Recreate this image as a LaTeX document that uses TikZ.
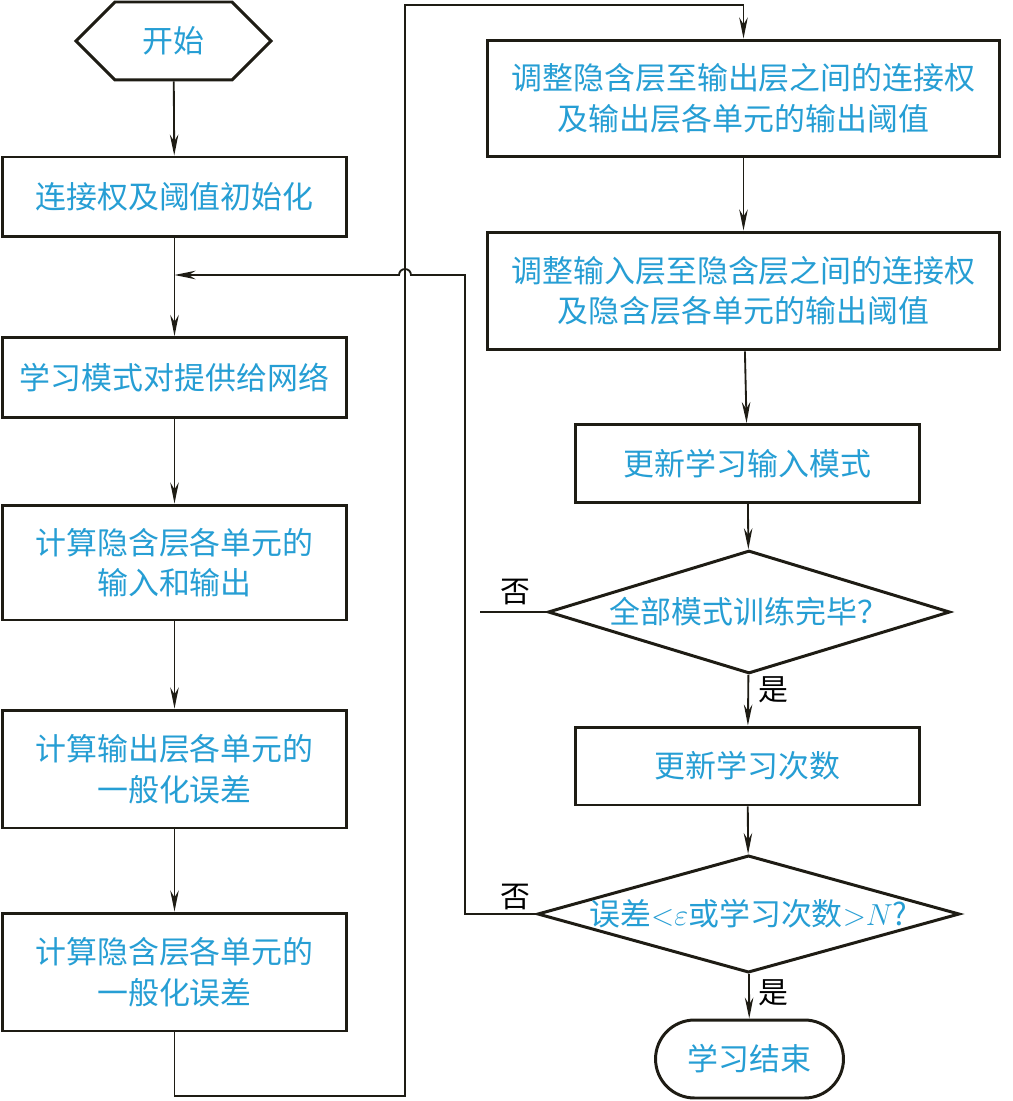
\documentclass[tikz,border=0pt]{standalone}
\usepackage{fontspec}
\newfontfamily\cjk{Noto Sans CJK SC}
\usepackage{xcolor}
\definecolor{txtblue}{RGB}{38,158,212}
\definecolor{inkline}{RGB}{30,28,20}
\usepackage{tikz}
\usetikzlibrary{positioning,arrows.meta,shapes.geometric,shapes.misc,shapes.symbols}
\tikzset{
  proc/.style  ={rectangle, draw=inkline, line width=1.7pt, fill=white, text=txtblue,
                 align=center, inner sep=2pt, minimum width=6.9cm, minimum height=1.6cm,
                 font=\cjk\fontsize{17.6}{23}\selectfont},
  wproc/.style ={proc, minimum width=10.26cm, minimum height=2.34cm},
  sproc/.style ={proc, minimum height=1.56cm},
  term/.style  ={proc, signal, signal to=west and east, signal pointer angle=90,
                 minimum width=3.9cm, minimum height=1.56cm},
  stopbox/.style={proc, rounded rectangle, minimum width=3.9cm, minimum height=1.56cm},
  decide/.style={proc, diamond, aspect=3.3, inner sep=0pt},
  arr/.style   ={-{Stealth[length=4.2mm, width=1.7mm]}, line width=1.05pt, draw=inkline},
  ln/.style    ={line width=1.05pt, draw=inkline},
  yn/.style    ={font=\cjk\fontsize{17}{20}\selectfont, text=black, inner sep=1pt},
}

\begin{document}
\begin{tikzpicture}[x=0.02cm, y=-0.02cm]
  \useasboundingbox[fill=white] (0,0) rectangle (1013,1101);
  % left column
  \node[term]  (start) at (173.5,41)  {开始};
  \node[proc]  (init)  at (174.5,197) {连接权及阈值初始化};
  \node[proc]  (feed)  at (174.5,377.5) {学习模式对提供给网络};
  \node[proc, minimum height=2.3cm] (hid)  at (174.5,562.5) {计算隐含层各单元的\\输入和输出};
  \node[proc, minimum height=2.36cm] (oerr) at (174.5,769) {计算输出层各单元的\\一般化误差};
  \node[proc, minimum height=2.36cm] (herr) at (174.5,972) {计算隐含层各单元的\\一般化误差};
  % right column
  \node[wproc] (wout)  at (743.5,98.5) {调整隐含层至输出层之间的连接权\\及输出层各单元的输出阈值};
  \node[wproc, minimum height=2.36cm] (win) at (743.5,291) {调整输入层至隐含层之间的连接权\\及隐含层各单元的输出阈值};
  \node[sproc] (upd)   at (747.5,463.5) {更新学习输入模式};
  \node[decide, minimum width=8.04cm, minimum height=2.46cm] (allq) at (749,612) {全部模式训练完毕？};
  \node[sproc] (cnt)   at (747.5,766) {更新学习次数};
  \node[decide, aspect=3.6, minimum width=8.14cm, minimum height=2.32cm] (errq) at (748.5,914)
       {误差${<}\varepsilon$或学习次数${>}N$?};
  \node[stopbox] (stop) at (749.5,1059) {学习结束};
  % labels
  \node[yn] (no1)  at (515,592)  {否};
  \node[yn] (yes1) at (773,690)  {是};
  \node[yn] (no2)  at (515,897)  {否};
  \node[yn] (yes2) at (773,993)  {是};
  % helper points
  \coordinate (join) at (174.5,275);
  \coordinate (hopr) at (411,275);
  \coordinate (ret)  at (465,275);
  \coordinate (loopb) at (405,1096);
  \coordinate (loopt) at (405,5);
  \coordinate (nofree) at (480,612);
  % connectors
  \draw[arr] (start) -- (init);
  \draw[arr] (init) -- (feed);
  \draw[arr] (feed) -- (hid);
  \draw[arr] (hid) -- (oerr);
  \draw[arr] (oerr) -- (herr);
  \draw[arr] (herr.south) |- (loopb) -- (loopt) -| (wout.north);
  \draw[arr] (wout) -- (win);
  \draw[arr] (win) -- (upd);
  \draw[arr] (upd) -- (allq);
  \draw[arr] (allq) -- (cnt);
  \draw[ln]  (allq.west) -- (nofree);
  \draw[arr] (cnt) -- (errq);
  \draw[arr] (errq) -- (stop);
  \draw[arr] (errq.west) -| (ret) -- (hopr) arc[start angle=0, end angle=180, radius=0.12cm] -- (join);
\end{tikzpicture}
\end{document}
